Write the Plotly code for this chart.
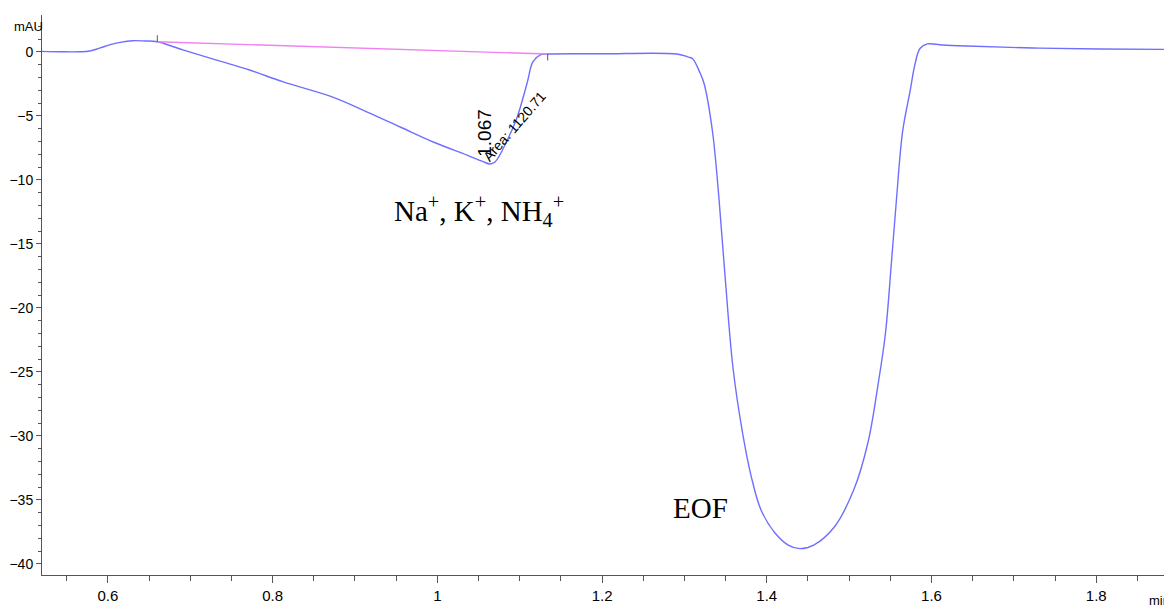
import plotly.graph_objects as go

# Electropherogram signal (time in min, signal in mAU)
time_min = [0.520, 0.542, 0.566, 0.578, 0.590, 0.602, 0.615, 0.630, 0.645, 0.660,
            0.691, 0.732, 0.772, 0.813, 0.873, 0.915, 0.955, 0.995, 1.036, 1.055,
            1.064, 1.070, 1.085, 1.097, 1.109, 1.116, 1.125, 1.134, 1.200, 1.291,
            1.305, 1.310, 1.319, 1.324, 1.334, 1.342, 1.350, 1.359, 1.371, 1.381,
            1.393, 1.410, 1.426, 1.440, 1.457, 1.482, 1.506, 1.523, 1.535, 1.544,
            1.551, 1.5575, 1.565, 1.574, 1.580, 1.586, 1.595, 1.613, 1.643, 1.723,
            1.805, 1.892]
signal_mau = [0.05, 0.02, 0.02, 0.08, 0.30, 0.55, 0.75, 0.88, 0.86, 0.80,
              0.16, -0.63, -1.41, -2.34, -3.52, -4.69, -5.86, -7.03, -8.05, -8.55,
              -8.75, -8.60, -6.88, -5.08, -2.42, -0.78, -0.23, -0.16, -0.14, -0.16,
              -0.40, -0.52, -1.64, -2.50, -6.17, -11.48, -18.05, -24.69, -29.92, -33.13,
              -35.78, -37.58, -38.52, -38.80, -38.52, -37.11, -34.14, -30.47, -26.02, -22.03,
              -16.72, -11.48, -6.17, -3.05, -0.94, 0.27, 0.63, 0.55, 0.47, 0.31,
              0.23, 0.20]

# Integration baseline of the first peak (start, end)
baseline_time = [0.660, 1.134]
baseline_mau = [0.80, -0.16]

peak_rt_label = "1.067"
peak_area_label = "Area: 1120.71"
peak_label = "Na<sup>+</sup>, K<sup>+</sup>, NH<sub>4</sub><sup>+</sup>"
eof_label = "EOF"

Y_TICK_FONT = dict(family="Liberation Sans", size=14, color="black")
X_TICK_FONT = dict(family="Liberation Sans", size=15, color="black")
UNIT_FONT = dict(family="Liberation Sans", size=13, color="black")

fig = go.Figure()
fig.add_trace(go.Scatter(x=time_min, y=signal_mau, mode="lines",
                         line=dict(color="#6f6fff", width=1.4, shape="spline", smoothing=1.0),
                         hoverinfo="skip", showlegend=False))
fig.add_trace(go.Scatter(x=baseline_time, y=baseline_mau, mode="lines",
                         line=dict(color="#f080f0", width=1.4),
                         hoverinfo="skip", showlegend=False))

# small vertical markers at integration start / end
fig.add_shape(type="line", xref="x", yref="y", x0=baseline_time[0], x1=baseline_time[0],
              y0=baseline_mau[0], y1=baseline_mau[0] + 0.5, line=dict(color="#555", width=1))
fig.add_shape(type="line", xref="x", yref="y", x0=baseline_time[1], x1=baseline_time[1],
              y0=baseline_mau[1], y1=baseline_mau[1] - 0.5, line=dict(color="#555", width=1))

fig.add_annotation(x=1.058, y=-6.3, xref="x", yref="y", text=peak_rt_label, showarrow=False,
                   textangle=-90, font=dict(family="Liberation Sans", size=19, color="black"))
fig.add_annotation(x=1.094, y=-5.8, xref="x", yref="y", text=peak_area_label, showarrow=False,
                   textangle=-49, font=dict(family="Liberation Sans", size=14, color="black"))
fig.add_annotation(x=1.051, y=-12.4, xref="x", yref="y", text=peak_label, showarrow=False,
                   font=dict(family="Liberation Serif", size=29, color="black"))
fig.add_annotation(x=1.320, y=-35.6, xref="x", yref="y", text=eof_label, showarrow=False,
                   font=dict(family="Liberation Serif", size=29, color="black"))

# axis unit labels
fig.add_annotation(x=0.003, y=0.979, xref="paper", yref="paper", text="mAU", showarrow=False,
                   xanchor="right", yanchor="middle", font=UNIT_FONT)
fig.add_annotation(x=1.0, y=-0.028, xref="paper", yref="paper", text="min", showarrow=False,
                   xanchor="right", yanchor="top", font=UNIT_FONT)

# the page body adds an 8px offset; the figure is sized so it fits the window exactly
fig.update_layout(
    width=1164, height=599,
    margin=dict(l=34, r=0, t=7, b=32),
    plot_bgcolor="white", paper_bgcolor="white",
    font=dict(family="Liberation Sans", size=15, color="black"),
)
fig.update_xaxes(range=[0.52, 1.892], tick0=0.6, dtick=0.2, showgrid=False, zeroline=False,
                 showline=True, linecolor="#555", linewidth=1, automargin=False,
                 ticks="outside", ticklen=7, tickcolor="#555", tickfont=X_TICK_FONT,
                 minor=dict(dtick=0.05, tick0=0.6, ticks="outside", ticklen=5, tickcolor="#555"))
fig.update_yaxes(range=[-40.86, 2.89], tick0=0, dtick=5, showgrid=False, zeroline=False,
                 showline=True, linecolor="#555", linewidth=1, automargin=False,
                 ticks="outside", ticklen=5, tickcolor="#555", tickfont=Y_TICK_FONT, ticklabelstandoff=0,
                 minor=dict(dtick=1, tick0=0, ticks="outside", ticklen=3, tickcolor="#555"))

fig.write_html("out.html")
